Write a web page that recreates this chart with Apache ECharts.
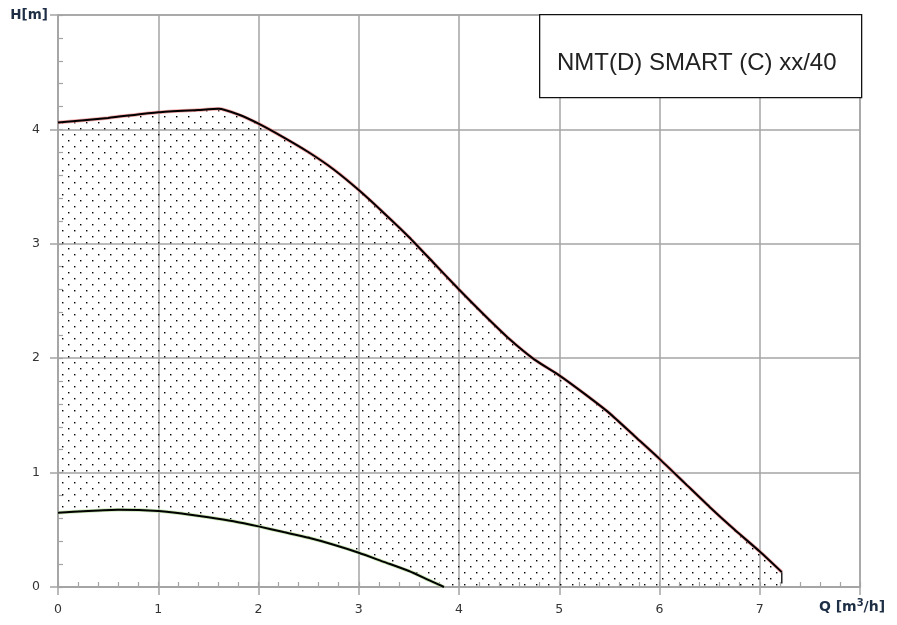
<!DOCTYPE html>
<html>
<head>
<meta charset="utf-8">
<script src="https://cdn.jsdelivr.net/npm/echarts@6/dist/echarts.min.js"></script>
<style>html,body{margin:0;padding:0;background:#fff}#c{width:897px;height:625px}</style>
</head>
<body>
<div id="c"></div>
<script>
// ---- data ----
var xTickLabels = ['0', '1', '2', '3', '4', '5', '6', '7'];
var yTickLabels = ['0', '1', '2', '3', '4'];
var upperQ = [0, 0.5, 1.0, 1.4, 1.6, 1.8, 2.0, 2.25, 2.5, 2.75, 3.0, 3.25, 3.5, 3.75, 4.0, 4.25, 4.5, 4.75, 5.0, 5.25, 5.5, 5.75, 6.0, 6.25, 6.5, 6.75, 7.0, 7.22];
var upperH = [4.06, 4.10, 4.15, 4.17, 4.18, 4.13, 4.05, 3.93, 3.80, 3.65, 3.47, 3.27, 3.06, 2.83, 2.60, 2.38, 2.17, 1.99, 1.85, 1.69, 1.52, 1.32, 1.12, 0.91, 0.70, 0.50, 0.31, 0.13];
var lowerQ = [0, 0.3, 0.6, 1.0, 1.25, 1.5, 1.75, 2.0, 2.25, 2.5, 2.75, 3.0, 3.25, 3.5, 3.7, 3.85];
var lowerH = [0.65, 0.665, 0.675, 0.665, 0.64, 0.61, 0.575, 0.53, 0.48, 0.43, 0.37, 0.30, 0.22, 0.14, 0.06, 0.0];
var endMarkQ = [7.22, 7.22];
var endMarkH = [0.13, 0.03];
var titleText = 'NMT(D) SMART (C) xx/40';

function pairs(xs, ys) { return xs.map(function (x, i) { return [x, ys[i]]; }); }
var upperData = pairs(upperQ, upperH);
var lowerData = pairs(lowerQ, lowerH);

// dotted pattern
var pat = document.createElement('canvas');
pat.width = 12; pat.height = 12;
var pc = pat.getContext('2d');
function dot(x, y) {
  pc.fillStyle = '#000'; pc.fillRect(x, y, 1, 1);
  pc.fillStyle = 'rgba(0,0,0,0.4)'; pc.fillRect(x + 1, y, 1, 1); pc.fillRect(x, y + 1, 1, 1);
  pc.fillStyle = 'rgba(0,0,0,0.2)'; pc.fillRect(x + 1, y + 1, 1, 1);
}
dot(2, 2); dot(8, 8);

var chart = echarts.init(document.getElementById('c'), null, { renderer: 'canvas' });
var gridCol = '#a4a4a4';
var labelFont = { color: '#333', fontFamily: 'DejaVu Sans', fontSize: 12.5 };

var option = {
  animation: false,
  backgroundColor: '#fff',
  grid: { left: 58, right: 37, top: 15, bottom: 38, show: true, borderColor: gridCol, borderWidth: 1.5, backgroundColor: 'transparent' },
  xAxis: [{
    type: 'value', min: 0, max: 8, interval: 1, position: 'bottom',
    name: 'Q [m{s|3}/h]', nameLocation: 'end', nameGap: -8,
    nameTextStyle: { fontFamily: 'DejaVu Sans', fontWeight: 'bold', fontSize: 14, lineHeight: 18, color: '#1e2f45', align: 'center', verticalAlign: 'top', padding: [11, 0, 0, 0],
      rich: { s: { fontFamily: 'DejaVu Sans', fontWeight: 'bold', fontSize: 10, lineHeight: 18, verticalAlign: 'top', color: '#1e2f45', padding: [0, 0, 6, 0] } } },
    axisLine: { lineStyle: { color: gridCol, width: 1.5 } },
    axisTick: { length: 8, lineStyle: { color: gridCol, width: 1.5 } },
    axisLabel: Object.assign({ margin: 16, formatter: function (v) { var i = Math.round(v); return (Math.abs(v - i) < 1e-6 && i < xTickLabels.length) ? xTickLabels[i] : ''; } }, labelFont),
    splitLine: { lineStyle: { color: gridCol, width: 1.5 } }
  }, {
    type: 'value', min: 0, max: 8, interval: 0.2, position: 'bottom',
    axisLine: { show: false }, axisLabel: { show: false }, splitLine: { show: false },
    axisTick: { inside: true, length: 5, lineStyle: { color: gridCol, width: 1.2 } }
  }],
  yAxis: [{
    type: 'value', min: 0, max: 5, interval: 1, position: 'left',
    name: 'H[m]', nameLocation: 'end', nameGap: 0,
    nameTextStyle: { fontFamily: 'DejaVu Sans', fontWeight: 'bold', fontSize: 13.5, color: '#1e2f45', align: 'right', verticalAlign: 'middle', padding: [4, 10, 0, 0] },
    axisLine: { lineStyle: { color: gridCol, width: 1.5 } },
    axisTick: { length: 8, lineStyle: { color: gridCol, width: 1.5 } },
    axisLabel: Object.assign({ margin: 18, formatter: function (v) { var i = Math.round(v); return (Math.abs(v - i) < 1e-6 && i < yTickLabels.length) ? yTickLabels[i] : ''; } }, labelFont),
    splitLine: { lineStyle: { color: gridCol, width: 1.5 } }
  }, {
    type: 'value', min: 0, max: 5, interval: 0.2, position: 'left', offset: 0,
    axisLine: { show: false }, axisLabel: { show: false }, splitLine: { show: false },
    axisTick: { inside: true, length: 5, lineStyle: { color: gridCol, width: 1.2 } }
  }],
  series: [
    {
      type: 'custom', coordinateSystem: 'cartesian2d', xAxisIndex: 0, yAxisIndex: 0,
      data: [[0, 0]], silent: true, z: 1,
      renderItem: function (params, api) {
        var pts = [];
        upperData.forEach(function (d) { pts.push(api.coord(d)); });
        pts.push(api.coord([upperQ[upperQ.length - 1], 0]));
        for (var i = lowerData.length - 1; i >= 0; i--) pts.push(api.coord(lowerData[i]));
        return { type: 'polygon', shape: { points: pts }, style: { fill: { image: pat, repeat: 'repeat' }, stroke: null } };
      }
    },
    { type: 'line', data: upperData, smooth: 0.2, showSymbol: false, z: 3, lineStyle: { color: '#f08080', width: 3.5, opacity: 0.7 } },
    { type: 'line', data: upperData, smooth: 0.2, showSymbol: false, z: 4, lineStyle: { color: '#000', width: 2 } },
    { type: 'line', data: lowerData, smooth: 0.2, showSymbol: false, z: 3, lineStyle: { color: '#b6dc9c', width: 3.5, opacity: 0.8 } },
    { type: 'line', data: lowerData, smooth: 0.2, showSymbol: false, z: 4, lineStyle: { color: '#000', width: 2 } },
    { type: 'line', data: pairs(endMarkQ, endMarkH), showSymbol: false, z: 4, lineStyle: { color: '#000', width: 1.3 } }
  ],
  graphic: [
    { type: 'rect', z: 100, left: 539, top: 14, shape: { x: 0, y: 0, width: 322, height: 83 }, style: { fill: '#fff', stroke: '#111', lineWidth: 1.3 } },
    { type: 'text', z: 101, left: 557, top: 51, style: { text: titleText, fill: '#222', font: '24px "Liberation Sans", Arial, sans-serif' } }
  ]
};
chart.setOption(option);
</script>
</body>
</html>
